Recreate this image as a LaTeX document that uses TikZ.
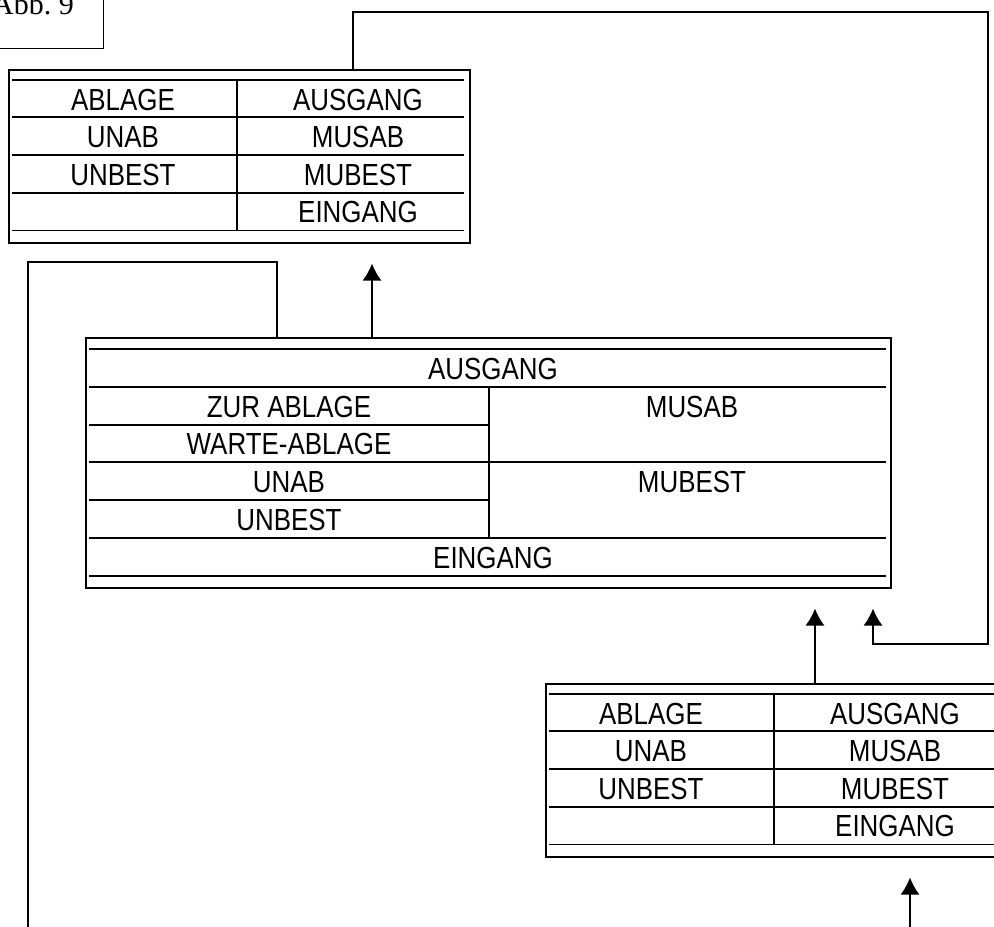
\documentclass[tikz,border=0pt]{standalone}
\usepackage{fontspec}
\usetikzlibrary{arrows.meta}
\newfontfamily\tabfont{Liberation Sans}[FakeStretch=0.85]
\newfontfamily\abbfont{Liberation Serif}

\tikzset{
  kasten/.style={draw, line width=1.5pt, inner sep=0pt},
  strich/.style={line width=1.7pt},
  duenn/.style={line width=1pt},
  feld/.style={font=\tabfont\fontsize{30.5}{36}\selectfont, inner sep=0pt},
  pfeil/.style={line width=1.7pt, -{Latex[length=17pt,width=19pt]}, shorten >=20pt},
}

\begin{document}
\begin{tikzpicture}[x=1pt,y=-1pt]
\useasboundingbox (0,0) rectangle (994,927);
\clip (0,0) rectangle (994,927);

% Abb. 9
\node[kasten, anchor=south east, minimum width=124pt, minimum height=64pt] (abbkasten) at (104,49) {};
\node[anchor=base east, inner sep=0pt, font=\abbfont\fontsize{30}{34}\selectfont] (abb) at (74,14) {Abb.~9};

% Tabelle oben
\node[kasten, anchor=north west, minimum width=461pt, minimum height=173pt] (oben) at (8,69) {};
\draw[strich] (12,80) -- (464,80);
\draw[strich] (12,117) -- (464,117);
\draw[strich] (12,155) -- (464,155);
\draw[strich] (12,193) -- (464,193);
\draw[duenn] (12,230) -- (464,230);
\draw[strich] (237,80) -- (237,230);
\node[feld] (o-ablage) at (123,100) {ABLAGE};
\node[feld] (o-unab) at (123,137) {UNAB};
\node[feld] (o-unbest) at (123,175) {UNBEST};
\node[feld] (o-ausgang) at (358,100) {AUSGANG};
\node[feld] (o-musab) at (358,137) {MUSAB};
\node[feld] (o-mubest) at (358,175) {MUBEST};
\node[feld] (o-eingang) at (358,212) {EINGANG};

% Tabelle Mitte
\node[kasten, anchor=north west, minimum width=805pt, minimum height=250pt] (mitte) at (85,337) {};
\draw[strich] (89,349) -- (886,349);
\draw[strich] (89,387) -- (886,387);
\draw[strich] (89,425) -- (489,425);
\draw[strich] (89,462) -- (886,462);
\draw[strich] (89,500) -- (489,500);
\draw[strich] (89,538) -- (886,538);
\draw[strich] (89,576) -- (886,576);
\draw[strich] (489,387) -- (489,538);
\node[feld] (m-ausgang) at (493,369) {AUSGANG};
\node[feld] (m-zurablage) at (289,407) {ZUR ABLAGE};
\node[feld] (m-warteablage) at (289,444) {WARTE-ABLAGE};
\node[feld] (m-unab) at (289,482) {UNAB};
\node[feld] (m-unbest) at (289,520) {UNBEST};
\node[feld] (m-musab) at (692,407) {MUSAB};
\node[feld] (m-mubest) at (692,482) {MUBEST};
\node[feld] (m-eingang) at (493,558) {EINGANG};

% Tabelle unten
\begin{scope}[shift={(537,614)}]
\node[kasten, anchor=north west, minimum width=461pt, minimum height=173pt] (unten) at (8,69) {};
\draw[strich] (12,80) -- (464,80);
\draw[strich] (12,117) -- (464,117);
\draw[strich] (12,155) -- (464,155);
\draw[strich] (12,193) -- (464,193);
\draw[duenn] (12,230) -- (464,230);
\draw[strich] (237,80) -- (237,230);
\node[feld] (u-ablage) at (114,100) {ABLAGE};
\node[feld] (u-unab) at (114,137) {UNAB};
\node[feld] (u-unbest) at (114,175) {UNBEST};
\node[feld] (u-ausgang) at (358,100) {AUSGANG};
\node[feld] (u-musab) at (358,137) {MUSAB};
\node[feld] (u-mubest) at (358,175) {MUBEST};
\node[feld] (u-eingang) at (358,212) {EINGANG};
\end{scope}

% Verbindungen
\coordinate (links) at (28,927);
\coordinate (unterrand) at (910,927);
\draw[pfeil] (oben.north -| 353,0) -- (353,12) -| (988,644) -| (mitte.south -| 873,0);
\draw[pfeil] (mitte.north -| 372,0) -- (oben.south -| 372,0);
\draw[pfeil] (unten.north -| 815,0) -- (mitte.south -| 815,0);
\draw[strich] (mitte.north -| 277,0) -- (277,262) -| (links);
\draw[pfeil] (unterrand) -- (unten.south -| unterrand);
\end{tikzpicture}
\end{document}
